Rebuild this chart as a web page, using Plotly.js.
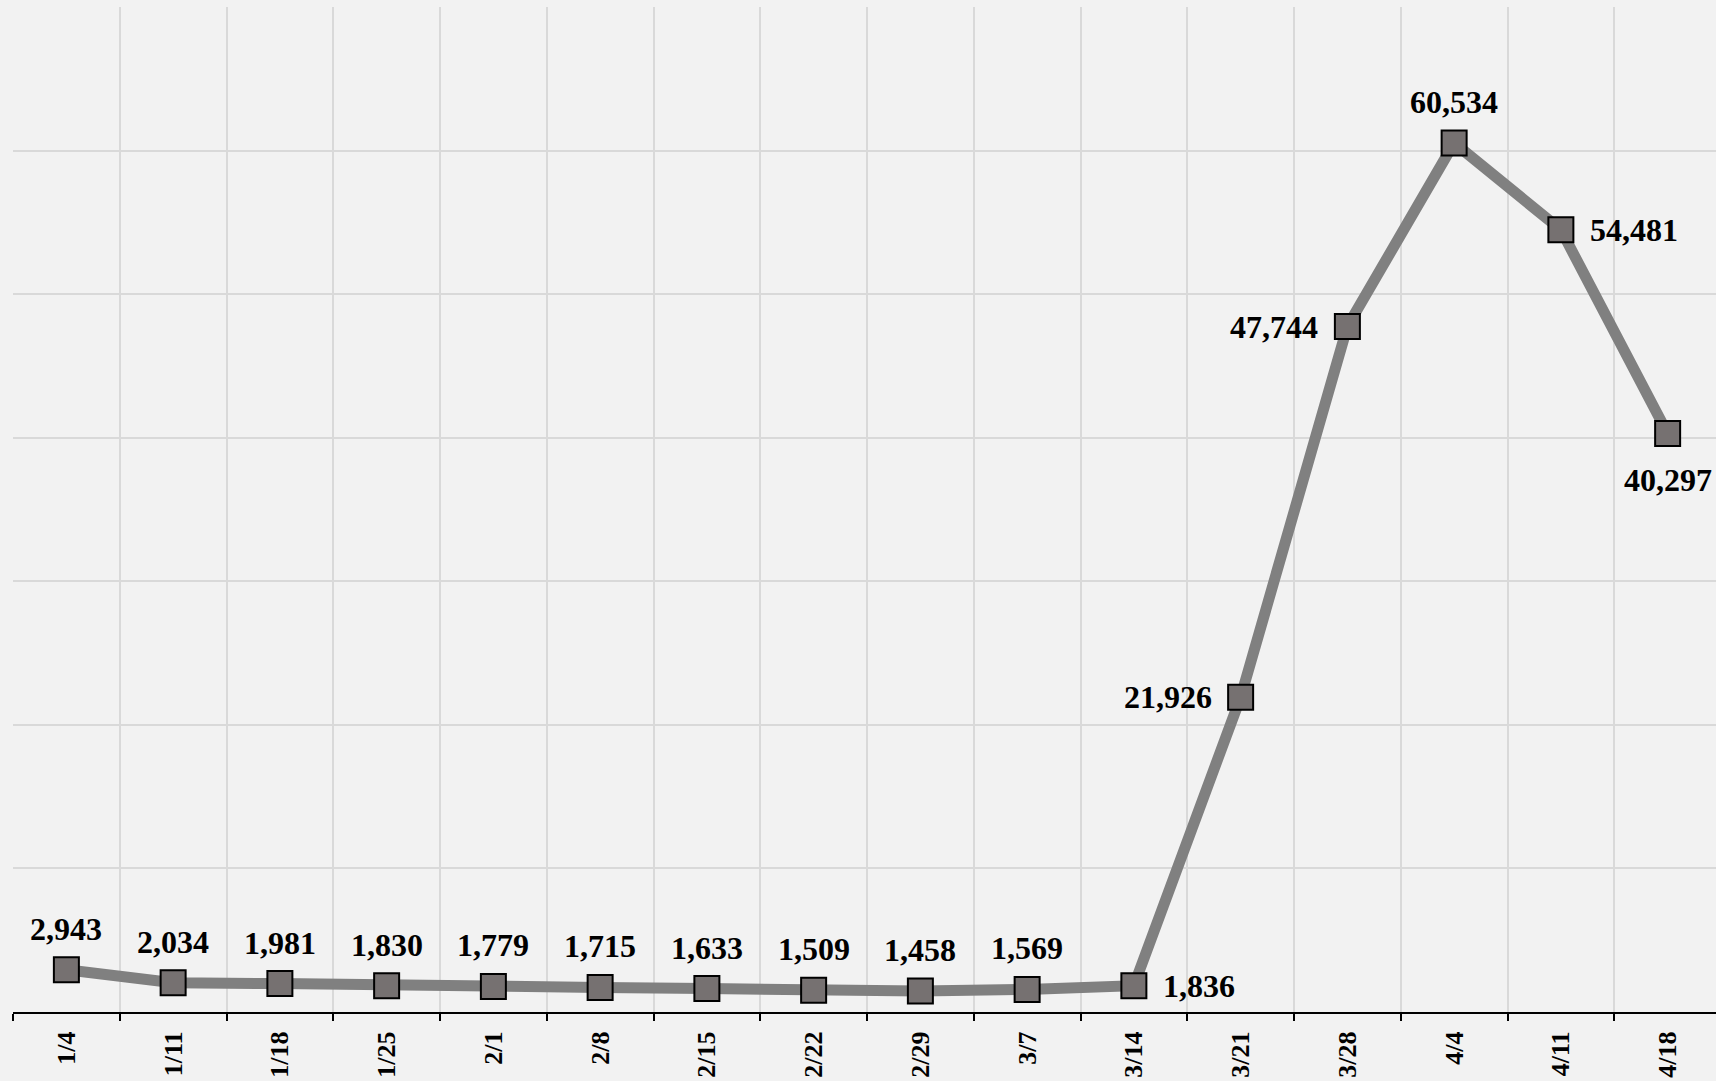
<!DOCTYPE html>
<html><head><meta charset="utf-8">
<script src="https://cdn.plot.ly/plotly-3.0.1.min.js"></script>
<style>html,body{margin:0;padding:0;overflow:hidden;background:#f2f2f2}</style>
</head><body><div id="chart" style="width:1721px;height:1081px"></div>
<script>
const categories = ["1/4","1/11","1/18","1/25","2/1","2/8","2/15","2/22","2/29","3/7","3/14","3/21","3/28","4/4","4/11","4/18"];
const values = [2943,2034,1981,1830,1779,1715,1633,1509,1458,1569,1836,21926,47744,60534,54481,40297];
const labelSides = ["top","top","top","top","top","top","top","top","top","top","right","left","left","top","right","bottom"];

const fontFamily = 'Liberation Serif, Times New Roman, serif';
const sideStyle = {
  top:    {xanchor: 'center', yanchor: 'bottom', xshift: 0,   yshift: 21},
  bottom: {xanchor: 'center', yanchor: 'top',    xshift: 0,   yshift: -27},
  left:   {xanchor: 'right',  yanchor: 'middle', xshift: -27, yshift: 0},
  right:  {xanchor: 'left',   yanchor: 'middle', xshift: 27,  yshift: 0}
};
const fmt = v => v.toLocaleString('en-US');

const trace = {
  x: categories, y: values, type: 'scatter', mode: 'lines+markers',
  line: {color: '#808080', width: 11},
  marker: {symbol: 'square', size: 25, color: '#767171', line: {color: '#000', width: 2}},
  cliponaxis: false, hoverinfo: 'skip'
};
const annotations = categories.map((c, i) => Object.assign({
  x: c, y: values[i], xref: 'x', yref: 'y', text: fmt(values[i]), showarrow: false,
  font: {family: fontFamily, size: 32, color: '#000', weight: 'bold'}
}, sideStyle[labelSides[i]]));

const layout = {
  width: 1721, height: 1081,
  margin: {l: 13, r: 0, t: 7, b: 69},
  paper_bgcolor: '#f2f2f2', plot_bgcolor: '#f2f2f2',
  showlegend: false,
  annotations: annotations,
  xaxis: {type: 'category', range: [-0.5, categories.length - 0.5], autorange: false,
    tickson: 'boundaries', ticks: 'outside', ticklen: 7, tickwidth: 2, tickcolor: '#000',
    showline: true, linecolor: '#000', linewidth: 2, showgrid: true, gridcolor: '#d9d9d9', gridwidth: 2,
    tickangle: -90, ticklabelstandoff: 7,
    tickfont: {family: fontFamily, size: 26, color: '#000', weight: 'bold'}},
  yaxis: {range: [0, 70000], autorange: false, dtick: 10000, showticklabels: false, showgrid: true,
    gridcolor: '#d9d9d9', gridwidth: 2, zeroline: false, showline: false}
};
Plotly.newPlot('chart', [trace], layout, {staticPlot: true});
</script></body></html>
